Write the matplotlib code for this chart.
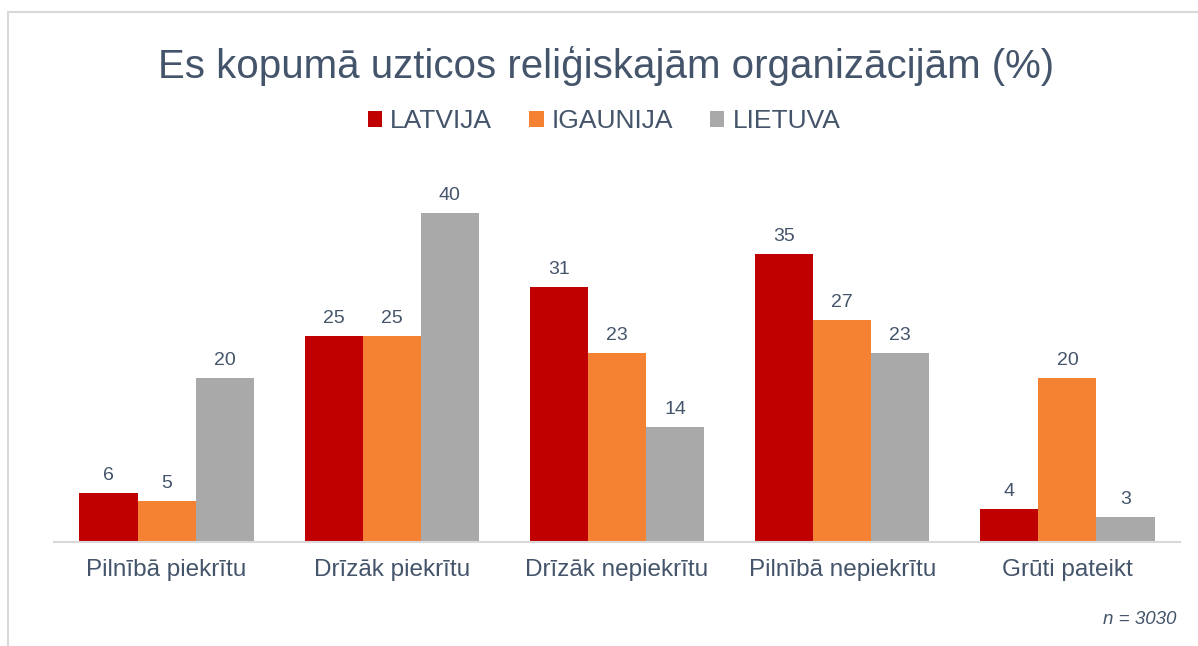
import matplotlib.pyplot as plt
from matplotlib.patches import Rectangle
import numpy as np

# Data
categories = ["Pilnībā piekrītu", "Drīzāk piekrītu", "Drīzāk nepiekrītu",
              "Pilnībā nepiekrītu", "Grūti pateikt"]
latvija = [6, 25, 31, 35, 4]
igaunija = [5, 25, 23, 27, 20]
lietuva = [20, 40, 14, 23, 3]
series_names = ["LATVIJA", "IGAUNIJA", "LIETUVA"]

colors = ["#C00000", "#F58232", "#A9A9A9"]
text_color = "#44546A"

plt.rcParams['font.family'] = ['Liberation Sans', 'DejaVu Sans']

fig = plt.figure(figsize=(11.98, 6.46), dpi=100)

# light grey frame around the chart area
fig.patches.append(Rectangle((8 / 1198, -0.2), 1.2, 1 - 12 / 646 + 0.2,
                             transform=fig.transFigure, fill=False,
                             edgecolor="#D9D9D9", linewidth=1.5))

ax = fig.add_axes([54 / 1198, 104 / 646, 1126 / 1198, 370 / 646])

x = np.arange(len(categories))
width = 0.258
handles = []
for i, (vals, name) in enumerate(zip([latvija, igaunija, lietuva], series_names)):
    bars = ax.bar(x + (i - 1) * width, vals, width, color=colors[i], label=name)
    handles.append(bars)
    for b, v in zip(bars, vals):
        ax.text(b.get_x() + b.get_width() / 2, v + 1.1, str(v),
                ha="center", va="bottom", fontsize=14, color=text_color)

ax.set_xlim(-0.5, len(categories) - 0.5)
ax.set_ylim(0, 45)
ax.set_yticks([])
ax.set_xticks(x)
ax.set_xticklabels(categories, fontsize=17.5, color=text_color)
ax.tick_params(axis="x", length=0, pad=12)
for s in ["top", "right", "left"]:
    ax.spines[s].set_visible(False)
ax.spines["bottom"].set_color("#D9D9D9")
ax.spines["bottom"].set_linewidth(1.5)

fig.text(606 / 1198, 1 - 66 / 646, "Es kopumā uzticos reliģiskajām organizācijām (%)",
         ha="center", va="center", fontsize=29, color=text_color)

leg = fig.legend(handles=handles, loc="center", bbox_to_anchor=(604 / 1198, 1 - 121 / 646),
                 ncol=3, frameon=False, fontsize=19, handlelength=0.55, handleheight=0.55,
                 handletextpad=0.3, columnspacing=1.4)
for t in leg.get_texts():
    t.set_color(text_color)

fig.text(1176 / 1198, 1 - 620 / 646, "n = 3030", ha="right", va="center",
         fontsize=13.5, style="italic", color=text_color)

fig.savefig("out.png", dpi=100)
